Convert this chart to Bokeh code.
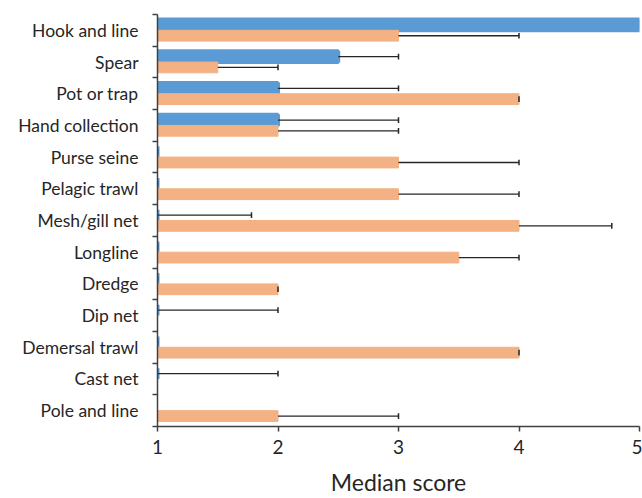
import math
from bokeh.plotting import figure
from bokeh.models import ColumnDataSource, Range1d, FixedTicker
from bokeh.embed import file_html
from bokeh.resources import INLINE

categories = ["Hook and line", "Spear", "Pot or trap", "Hand collection", "Purse seine",
              "Pelagic trawl", "Mesh/gill net", "Longline", "Dredge", "Dip net",
              "Demersal trawl", "Cast net", "Pole and line"]
blue_median = [5, 2.5, 2, 2, 1, 1, 1, 1, 1, 1, 1, 1, float("nan")]
blue_upper = [float("nan"), 3, 3, 3, 1, 1, 1.78, 1, 1, 2, 1, 2, float("nan")]
orange_median = [3, 1.5, 4, 2, 3, 3, 4, 3.5, 2, float("nan"), 4, float("nan"), 2]
orange_upper = [4, 2, 4, 3, 4, 4, 4.77, 4, 2, float("nan"), 4, float("nan"), 3]
x_ticks = [1, 2, 3, 4, 5]

BLUE = "#5B9BD5"
ORANGE = "#F4B183"
DARK = "#262626"
FONT = "Lato"

n = len(categories)
centers = [i + 0.5 for i in range(n)]
off = 0.17
bh = 0.34

p = figure(width=642, height=498, output_backend="svg", toolbar_location=None,
           x_range=Range1d(1, 5), y_range=Range1d(n, 0),
           min_border_left=157, min_border_right=3, min_border_top=14, min_border_bottom=65)
p.outline_line_color = None
p.xgrid.visible = False
p.ygrid.visible = False


def series(med, up, shift, color, lw):
    ys, rights, eys, lo, hi = [], [], [], [], []
    for c, m, u in zip(centers, med, up):
        if math.isnan(m):
            continue
        ys.append(c + shift)
        rights.append(m)
        if not math.isnan(u):
            eys.append(c + shift)
            lo.append(m)
            hi.append(u)
    src = ColumnDataSource(dict(y=ys, right=rights))
    p.hbar(y="y", left=1, right="right", height=bh, source=src,
           fill_color=color, line_color=color, line_width=lw)
    esrc = ColumnDataSource(dict(y=eys, lo=lo, hi=hi,
                                 y0=[y - 0.09 for y in eys], y1=[y + 0.09 for y in eys]))
    p.segment(x0="lo", x1="hi", y0="y", y1="y", source=esrc, line_color=DARK, line_width=1.3)
    p.segment(x0="hi", x1="hi", y0="y0", y1="y1", source=esrc, line_color=DARK, line_width=1.5)


series(blue_median, blue_upper, -off, BLUE, 4)
series(orange_median, orange_upper, off, ORANGE, 1)

# x axis
xa = p.xaxis[0]
xa.ticker = FixedTicker(ticks=x_ticks, minor_ticks=[])
xa.axis_label = "Median score"
xa.axis_label_text_font = FONT
xa.axis_label_text_font_style = "normal"
xa.axis_label_text_font_size = "23px"
xa.axis_label_text_color = DARK
xa.axis_label_standoff = 11
xa.major_label_text_font = FONT
xa.major_label_text_font_size = "19px"
xa.major_label_text_color = DARK
xa.major_label_standoff = 8
xa.major_tick_in = 0
xa.major_tick_out = 5
xa.minor_tick_out = 0
xa.axis_line_color = "#404040"
xa.axis_line_width = 1.5
xa.major_tick_line_color = "#404040"
xa.major_tick_line_width = 1.5

# y axis
ya = p.yaxis[0]
ya.ticker = FixedTicker(ticks=centers, minor_ticks=list(range(n + 1)))
ya.major_label_overrides = {c: lab for c, lab in zip(centers, categories)}
ya.major_label_text_font = FONT
ya.major_label_text_font_size = "17.5px"
ya.major_label_text_color = DARK
ya.major_label_standoff = 14
ya.major_tick_in = 0
ya.major_tick_out = 0
ya.minor_tick_in = 0
ya.minor_tick_out = 5
ya.minor_tick_line_color = "#404040"
ya.minor_tick_line_width = 1.5
ya.axis_line_color = "#404040"
ya.axis_line_width = 1.5

open("out.html", "w").write(file_html(p, INLINE))
